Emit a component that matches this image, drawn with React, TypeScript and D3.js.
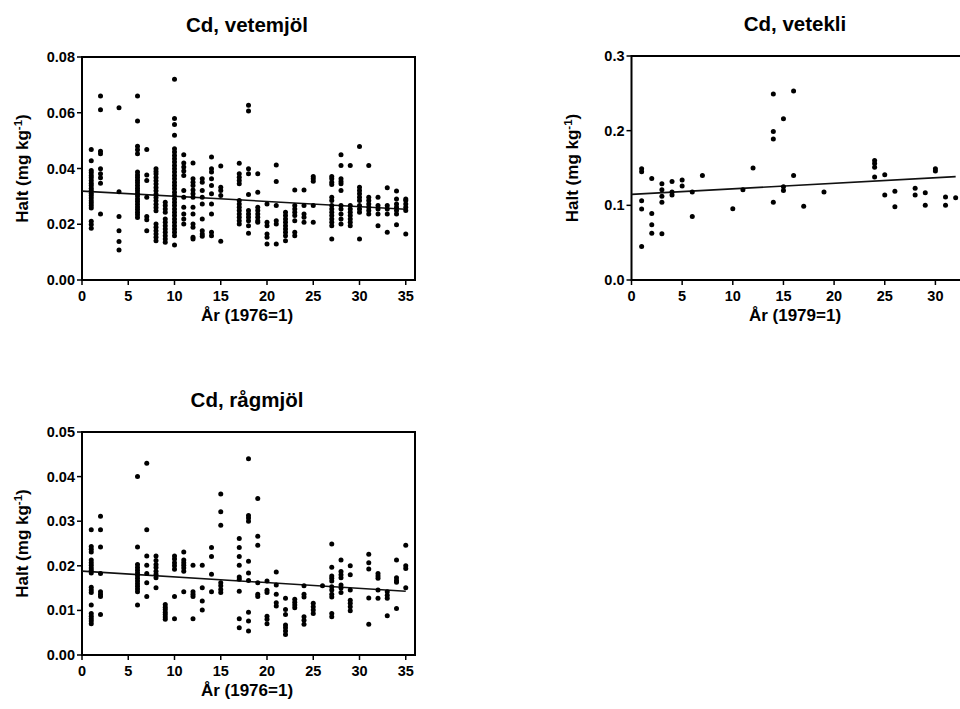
import * as d3 from 'd3';

// Cd, vetemjöl (year index 1976=1) -> measured values, mg/kg
const vetemjolYears = [1, 2, 4, 6, 7, 8, 9, 10, 11, 12, 13, 14, 15, 17, 18, 19, 20, 21, 22, 23, 24, 25, 27, 28, 29, 30, 31, 32, 33, 34, 35];
const vetemjolValues = [
  [0.0468, 0.0428, 0.0393, 0.0385, 0.0375, 0.0367, 0.0357, 0.0347, 0.0339, 0.0329, 0.0321, 0.0311, 0.0303, 0.0294, 0.0284, 0.0276, 0.0267, 0.0258, 0.0211, 0.0199, 0.0186],
  [0.066, 0.0611, 0.0462, 0.0453, 0.0399, 0.0381, 0.0367, 0.0347, 0.0237],
  [0.0618, 0.0317, 0.0228, 0.0177, 0.0138, 0.0108],
  [0.066, 0.057, 0.048, 0.0467, 0.0453, 0.0387, 0.0377, 0.0368, 0.0358, 0.0349, 0.0339, 0.0329, 0.032, 0.031, 0.0301, 0.0291, 0.0282, 0.0272, 0.0262, 0.0253, 0.0243, 0.0234, 0.0224],
  [0.0468, 0.0377, 0.0357, 0.0297, 0.0228, 0.0216, 0.0177],
  [0.0399, 0.0389, 0.038, 0.0368, 0.0356, 0.0344, 0.0332, 0.032, 0.0308, 0.0296, 0.0284, 0.0272, 0.026, 0.0248, 0.0201, 0.0189, 0.0177, 0.0165, 0.0153, 0.0141],
  [0.0279, 0.0267, 0.0255, 0.0243, 0.0219, 0.0207, 0.0195, 0.0183, 0.0171, 0.0159, 0.0147, 0.0135],
  [0.072, 0.0579, 0.0558, 0.0519, 0.0471, 0.0459, 0.0447, 0.0435, 0.0423, 0.0411, 0.0399, 0.0387, 0.0375, 0.0363, 0.0351, 0.0339, 0.0327, 0.0315, 0.0303, 0.0291, 0.0279, 0.0267, 0.0255, 0.0243, 0.0231, 0.0219, 0.0207, 0.0195, 0.0183, 0.0171, 0.0159, 0.0126],
  [0.0449, 0.042, 0.0405, 0.0391, 0.0375, 0.0321, 0.0297, 0.0261, 0.0237, 0.0219, 0.0201],
  [0.042, 0.0363, 0.0351, 0.0339, 0.0323, 0.0309, 0.0297, 0.0261, 0.0237, 0.0201, 0.0189, 0.0153, 0.0147],
  [0.0363, 0.0351, 0.0321, 0.0297, 0.0273, 0.0219, 0.0177, 0.0165, 0.0157],
  [0.0441, 0.0399, 0.0387, 0.0363, 0.0339, 0.0309, 0.0273, 0.0237, 0.0171, 0.0159],
  [0.0409, 0.0333, 0.0321, 0.0303, 0.0139],
  [0.0419, 0.0381, 0.0369, 0.0357, 0.0345, 0.0285, 0.0273, 0.0261, 0.0249, 0.0237, 0.0225, 0.0213, 0.0201],
  [0.0627, 0.0606, 0.0399, 0.0381, 0.0307, 0.0249, 0.0237, 0.0225, 0.0213, 0.0195, 0.0168],
  [0.0381, 0.0315, 0.0261, 0.0249, 0.0237, 0.0225, 0.0213, 0.0207],
  [0.0273, 0.0207, 0.0195, 0.0165, 0.0153, 0.0129],
  [0.0413, 0.0353, 0.0267, 0.0213, 0.0201, 0.0129],
  [0.0243, 0.0231, 0.0219, 0.0207, 0.0195, 0.0183, 0.0171, 0.0159, 0.0141],
  [0.0323, 0.0267, 0.0255, 0.0243, 0.0231, 0.0213, 0.0171, 0.0159],
  [0.0323, 0.0267, 0.0237, 0.0225, 0.0207],
  [0.0371, 0.0363, 0.0354, 0.0267, 0.0207],
  [0.0371, 0.0363, 0.0351, 0.0343, 0.0297, 0.0285, 0.0267, 0.0255, 0.0243, 0.0231, 0.0219, 0.0207, 0.0195, 0.0147],
  [0.0449, 0.0411, 0.0363, 0.0353, 0.0345, 0.0321, 0.0267, 0.0255, 0.0237, 0.0219, 0.0201],
  [0.0411, 0.0267, 0.0255, 0.0243, 0.0231, 0.0219, 0.0207, 0.0195],
  [0.0479, 0.0333, 0.0321, 0.0309, 0.0297, 0.0285, 0.0267, 0.0255, 0.0243, 0.0147],
  [0.0411, 0.0297, 0.0285, 0.0273, 0.0261, 0.0249, 0.0237],
  [0.0297, 0.0267, 0.0255, 0.0237, 0.0195],
  [0.0331, 0.0267, 0.0255, 0.0237, 0.0171],
  [0.0319, 0.0291, 0.0273, 0.0261, 0.0249, 0.0237, 0.0198],
  [0.0291, 0.0285, 0.0273, 0.0261, 0.0249, 0.0165],
];
const vetemjolTrend = [0.0319, 0.0254]; // at year 0 and year 35

// Cd, vetekli (1979=1)
const vetekliYears = [1, 2, 3, 4, 5, 6, 7, 10, 11, 12, 14, 15, 16, 17, 19, 24, 25, 26, 28, 29, 30, 31, 32];
const vetekliValues = [
  [0.149, 0.145, 0.106, 0.095, 0.045],
  [0.136, 0.089, 0.074, 0.0625],
  [0.129, 0.121, 0.112, 0.104, 0.062],
  [0.132, 0.118, 0.114],
  [0.134, 0.126],
  [0.118, 0.085],
  [0.14],
  [0.0955],
  [0.121],
  [0.15],
  [0.249, 0.199, 0.189, 0.104],
  [0.216, 0.125, 0.12],
  [0.253, 0.14],
  [0.0987],
  [0.118],
  [0.16, 0.156, 0.151, 0.138],
  [0.141, 0.114],
  [0.119, 0.098],
  [0.123, 0.114],
  [0.117, 0.1],
  [0.149, 0.146],
  [0.111, 0.1],
  [0.11],
];
const vetekliTrend = [0.1147, 0.1384]; // at year 0 and year 32

// Cd, rågmjöl (1976=1)
const ragmjolYears = [1, 2, 6, 7, 8, 9, 10, 11, 12, 13, 14, 15, 17, 18, 19, 20, 21, 22, 23, 24, 25, 26, 27, 28, 29, 31, 32, 33, 34, 35];
const ragmjolValues = [
  [0.0281, 0.0243, 0.0237, 0.0231, 0.0213, 0.0207, 0.0201, 0.0195, 0.019, 0.0184, 0.0152, 0.0146, 0.014, 0.0112, 0.0093, 0.0087, 0.0081, 0.0076, 0.007],
  [0.0311, 0.0281, 0.0242, 0.0183, 0.0142, 0.0136, 0.0131, 0.0091],
  [0.04, 0.0242, 0.0203, 0.0196, 0.019, 0.0184, 0.0178, 0.0172, 0.0166, 0.016, 0.0154, 0.0148, 0.0142, 0.0112],
  [0.043, 0.0281, 0.0222, 0.0201, 0.0183, 0.0162, 0.0131],
  [0.0222, 0.0212, 0.0203, 0.0196, 0.0188, 0.0181, 0.0173, 0.0151],
  [0.0113, 0.0107, 0.0102, 0.0096, 0.0091, 0.0085, 0.008],
  [0.0222, 0.0215, 0.0207, 0.02, 0.0192, 0.0131, 0.0081],
  [0.0231, 0.0213, 0.0207, 0.0201, 0.0195, 0.0188, 0.0142],
  [0.0201, 0.0142, 0.0136, 0.0131, 0.0081],
  [0.0201, 0.0151, 0.0121, 0.0101],
  [0.0241, 0.0221, 0.0181, 0.0142],
  [0.0361, 0.0321, 0.0291, 0.0162, 0.0155, 0.0147, 0.014],
  [0.0261, 0.0241, 0.0221, 0.0201, 0.0175, 0.017, 0.0143, 0.0081, 0.0061],
  [0.044, 0.0313, 0.0307, 0.03, 0.021, 0.0184, 0.0167, 0.0096, 0.0076, 0.0054],
  [0.0351, 0.0266, 0.0246, 0.0162, 0.0136, 0.0131],
  [0.0166, 0.0145, 0.014, 0.0087, 0.008, 0.007],
  [0.0186, 0.0157, 0.0136, 0.0117, 0.011],
  [0.0127, 0.0102, 0.0091, 0.0067, 0.0061, 0.0054, 0.0046],
  [0.0125, 0.0118, 0.0112, 0.0106],
  [0.0155, 0.0136, 0.013, 0.0086, 0.0078, 0.0069],
  [0.0116, 0.0108, 0.0101, 0.0093],
  [0.0155],
  [0.0249, 0.0197, 0.0177, 0.0172, 0.0166, 0.0153, 0.0146, 0.0136, 0.013, 0.0093, 0.0086],
  [0.0213, 0.0187, 0.018, 0.0173, 0.0157, 0.015, 0.014],
  [0.02, 0.018, 0.0146, 0.0123, 0.0116, 0.0108, 0.0099],
  [0.0226, 0.0207, 0.0193, 0.0128, 0.0069],
  [0.0183, 0.0177, 0.0172, 0.0146, 0.0127],
  [0.0142, 0.0134, 0.0127, 0.0088],
  [0.0213, 0.0173, 0.0167, 0.0163, 0.0104],
  [0.0246, 0.02, 0.0194, 0.0151],
];
const ragmjolTrend = [0.0188, 0.0143]; // at year 0 and year 35

const xTicks = [0, 5, 10, 15, 20, 25, 30, 35];

const FONT = 'Liberation Sans, Arial, sans-serif';

type PanelProps = {
  title: string;
  xLabel: string;
  years: number[];
  values: number[][];
  trend: number[];
  trendEnd: number;
  xMax: number;
  yMax: number;
  yTicks: number[];
  yFmt: (d: number) => string;
  left: number;
  right: number;
  top: number;
  bottom: number;
  cx: number;
};

function Panel(p: PanelProps) {
  const x = d3.scaleLinear().domain([0, p.xMax]).range([p.left, p.right]);
  const y = d3.scaleLinear().domain([0, p.yMax]).range([p.bottom, p.top]);
  const pts = p.years.flatMap((yr, i) => p.values[i].map((v) => [yr, v] as [number, number]));
  const line = d3.line<[number, number]>().x((d) => x(d[0])).y((d) => y(d[1]));
  const trendPts: [number, number][] = [[0, p.trend[0]], [p.trendEnd, p.trend[1]]];
  const midY = (p.top + p.bottom) / 2;
  const visTicks = xTicks.filter((t) => t <= p.xMax);

  return (
    <g fontFamily={FONT} fontWeight="bold" fill="#000">
      <text x={p.cx} y={p.top - 25} textAnchor="middle" fontSize={20.5}>
        {p.title}
      </text>
      {/* frame */}
      <rect x={p.left} y={p.top} width={p.right - p.left} height={p.bottom - p.top} fill="none" stroke="#000" strokeWidth={2} />
      {/* y ticks */}
      {p.yTicks.map((t) => (
        <g key={t}>
          <line x1={p.left - 5} x2={p.left} y1={y(t)} y2={y(t)} stroke="#000" strokeWidth={1.5} />
          <text x={p.left - 7} y={y(t) + 5} textAnchor="end" fontSize={14.5}>{p.yFmt(t)}</text>
        </g>
      ))}
      {/* x ticks */}
      {visTicks.map((t) => (
        <g key={t}>
          <line x1={x(t)} x2={x(t)} y1={p.bottom} y2={p.bottom + 5} stroke="#000" strokeWidth={1.5} />
          <text x={x(t)} y={p.bottom + 21} textAnchor="middle" fontSize={14.5}>{t}</text>
        </g>
      ))}
      <text x={p.cx} y={p.bottom + 40.5} textAnchor="middle" fontSize={17}>{p.xLabel}</text>
      <text transform={`translate(${p.left - 54},${midY}) rotate(-90)`} textAnchor="middle" fontSize={17}>
        Halt (mg kg<tspan dy={-6} fontSize={11.5}>-1</tspan><tspan dy={6}>)</tspan>
      </text>
      <path d={line(trendPts) ?? ''} fill="none" stroke="#111" strokeWidth={1.6} />
      {pts.map((d, i) => (
        <circle key={i} cx={x(d[0])} cy={y(d[1])} r={2.5} fill="#000" />
      ))}
    </g>
  );
}

export default function App() {
  const xv = d3.scaleLinear().domain([0, 36]).range([82, 415]);
  return (
    <svg width={960} height={709} style={{ position: 'absolute', left: 0, top: 0, background: '#fff' }}>
      <rect width={960} height={709} fill="#fff" />
      <Panel
        title="Cd, vetemjöl" xLabel="År (1976=1)" cx={247}
        years={vetemjolYears} values={vetemjolValues} trend={vetemjolTrend} trendEnd={35}
        xMax={36} yMax={0.08} yTicks={[0, 0.02, 0.04, 0.06, 0.08]} yFmt={(d) => d.toFixed(2)}
        left={xv(0)} right={xv(36)} top={57} bottom={280}
      />
      <Panel
        title="Cd, vetekli" xLabel="År (1979=1)" cx={795}
        years={vetekliYears} values={vetekliValues} trend={vetekliTrend} trendEnd={32}
        xMax={33} yMax={0.3} yTicks={[0, 0.1, 0.2, 0.3]} yFmt={(d) => d.toFixed(1)}
        left={631.5} right={631.5 + 33 * 10.13} top={56} bottom={280}
      />
      <Panel
        title="Cd, rågmjöl" xLabel="År (1976=1)" cx={247}
        years={ragmjolYears} values={ragmjolValues} trend={ragmjolTrend} trendEnd={35}
        xMax={36} yMax={0.05} yTicks={[0, 0.01, 0.02, 0.03, 0.04, 0.05]} yFmt={(d) => d.toFixed(2)}
        left={xv(0)} right={xv(36)} top={432} bottom={655}
      />
    </svg>
  );
}
